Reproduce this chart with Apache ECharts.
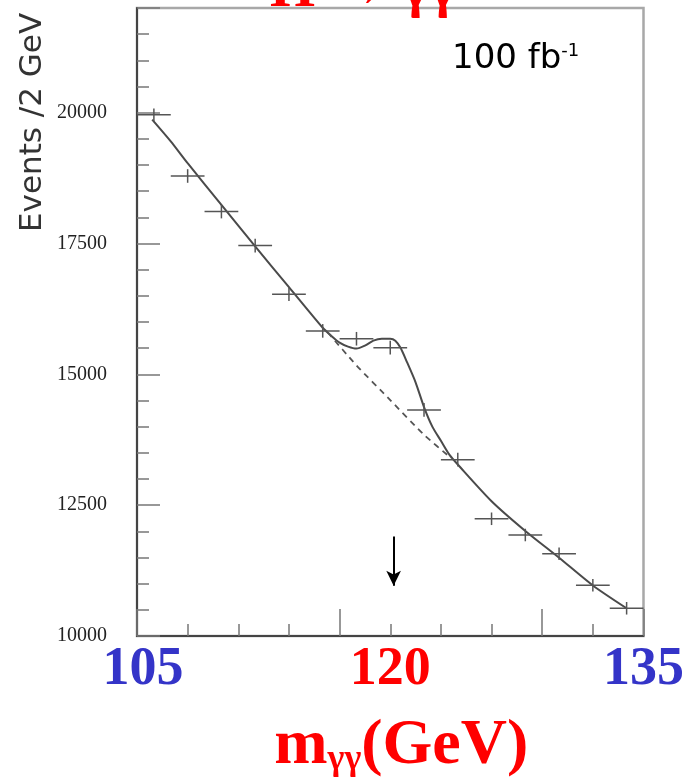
<!DOCTYPE html>
<html><head><meta charset="utf-8">
<script src="https://cdn.jsdelivr.net/npm/echarts@6/dist/echarts.min.js"></script>
<style>html,body{margin:0;padding:0;background:#fff}#c{width:687px;height:783px}</style>
</head><body><div id="c"></div>
<script>
// ---- data ----
const binCenters   = [106,108,110,112,114,116,118,120,122,124,126,128,130,132,134];
const binHalfWidth = [1,1,1,1,1,1,1,1,1,1,1,1,1,1,1];
const eventCounts  = [19960,18790,18110,17460,16530,15830,15680,15510,14320,13370,12240,11930,11570,10970,10530];
const eventErrors  = [120,130,130,130,130,130,130,130,130,130,120,120,120,120,120];

const fitMass   = [105.9,107,108,110,112,114,116,116.5,117,117.5,118,118.5,119,119.5,120,120.3,120.6,121,121.5,122,122.5,123,123.5,124,126,128,130,132,134];
const fitValues = [19867,19451,19034,18239,17443,16667,15890,15739,15606,15530,15492,15549,15644,15682,15682,15644,15511,15227,14848,14375,13996,13731,13466,13277,12576,12008,11496,10966,10530];

const bkgMass   = [116.3,118,120,122,123.6];
const bkgValues = [15800,15170,14508,13845,13400];

const arrowMass = 120.2;
const arrowFrom = 11900;
const arrowTo   = 10960;

const xLabelValues = [105,120,135];
const yLabelValues = [10000,12500,15000,17500,20000];

const titleText = 'H → γγ';
const lumiText = '100 fb';
const lumiSup = '-1';
const yTitle = 'Events /2 GeV';

// ---- chart ----
const chart = echarts.init(document.getElementById('c'));
const crossData = binCenters.map((m,i)=>[m, eventCounts[i], binHalfWidth[i], eventErrors[i]]);
const fitData = fitMass.map((m,i)=>[m, fitValues[i]]);
const bkgData = bkgMass.map((m,i)=>[m, bkgValues[i]]);

const serif = '"Liberation Serif","Times New Roman",serif';
const tickCol = '#777';

chart.setOption({
  backgroundColor:'#fff',
  animation:false,
  grid:{left:137, right:42, top:8, bottom:141, show:true, borderColor:'#a8a8a8', borderWidth:2.5},
  xAxis:[{
    type:'value', min:105, max:135, interval:3, position:'bottom',
    axisLine:{show:true, onZero:false, lineStyle:{color:'#444', width:2}},
    axisTick:{show:true, inside:true, length:12, lineStyle:{color:tickCol, width:1.5}},
    splitLine:{show:false},
    axisLabel:{
      show:true, margin:7, showMinLabel:true, showMaxLabel:true,
      formatter:function(v){
        if (xLabelValues.indexOf(v) < 0) return '';
        if (v === xLabelValues[0]) return '{b0|'+v+'}';
        if (v === xLabelValues[1]) return '{r|'+v+'}';
        return '{b|'+v+'}';
      },
      rich:{
        b0:{color:'#3434c8', fontFamily:serif, fontWeight:'bold', fontSize:54, padding:[0,0,0,12]},
        b:{color:'#3434c8', fontFamily:serif, fontWeight:'bold', fontSize:54},
        r:{color:'#ff0000', fontFamily:serif, fontWeight:'bold', fontSize:54}
      }
    },
    name:'{m|m}{s|γγ}{p|(GeV)}',
    nameLocation:'middle', nameGap:78,
    nameTextStyle:{
      padding:[0,0,0,22],
      rich:{
        m:{color:'#ff0000', fontFamily:serif, fontWeight:'bold', fontSize:64, verticalAlign:'top', lineHeight:64},
        p:{color:'#ff0000', fontFamily:serif, fontWeight:'bold', fontSize:64, verticalAlign:'top', lineHeight:64},
        s:{color:'#ff0000', fontFamily:serif, fontWeight:'bold', fontSize:36, verticalAlign:'bottom', lineHeight:36, padding:[38,0,0,0]}
      }
    }
  },{
    type:'value', min:105, max:135, interval:12, position:'bottom',
    axisLine:{show:false},
    axisTick:{show:true, inside:true, length:27, lineStyle:{color:tickCol, width:1.5}},
    axisLabel:{show:false}, splitLine:{show:false}
  }],
  yAxis:[{
    type:'value', min:10000, max:22000, interval:500, position:'left',
    axisLine:{show:true, onZero:false, lineStyle:{color:'#444', width:2}},
    axisTick:{show:true, inside:true, length:12, lineStyle:{color:tickCol, width:1.5}},
    axisLabel:{show:false}, splitLine:{show:false}
  },{
    type:'value', min:10000, max:22000, interval:2500, position:'left',
    axisLine:{show:false},
    axisTick:{show:true, inside:true, length:23, lineStyle:{color:tickCol, width:1.5}},
    splitLine:{show:false},
    axisLabel:{
      margin:30, color:'#222', fontFamily:serif, fontSize:20,
      formatter:function(v){ return yLabelValues.indexOf(v) >= 0 ? String(v) : ''; }
    }
  }],
  series:[{
    type:'line', name:'fit', xAxisIndex:0, yAxisIndex:0, data:fitData,
    smooth:0.25, showSymbol:false, symbol:'none',
    lineStyle:{color:'#4a4a4a', width:2}, z:3
  },{
    type:'line', name:'background', xAxisIndex:0, yAxisIndex:0, data:bkgData,
    smooth:0.2, showSymbol:false, symbol:'none',
    lineStyle:{color:'#555', width:1.8, type:[6,5]}, z:3,
    markLine:{
      silent:true, symbol:['none','arrow'], symbolSize:[11,15],
      label:{show:false},
      lineStyle:{color:'#000', width:2, type:'solid'},
      data:[[{coord:[arrowMass, arrowFrom]},{coord:[arrowMass, arrowTo]}]]
    }
  },{
    type:'custom', name:'data', xAxisIndex:0, yAxisIndex:0, data:crossData, z:4,
    renderItem:function(params, api){
      const m = api.value(0), v = api.value(1), hw = api.value(2), e = api.value(3);
      const l = api.coord([m-hw, v]), r = api.coord([m+hw, v]);
      const t = api.coord([m, v+e]), b = api.coord([m, v-e]);
      const st = {stroke:'#555', lineWidth:1.5};
      return {type:'group', children:[
        {type:'line', shape:{x1:l[0], y1:l[1], x2:r[0], y2:r[1]}, style:st},
        {type:'line', shape:{x1:t[0], y1:t[1], x2:b[0], y2:b[1]}, style:st}
      ]};
    }
  }],
  graphic:[
    {type:'text', x:270, y:-9, style:{text:titleText, fontFamily:serif, fontWeight:'bold', fontSize:58, fill:'#ff0000', align:'left', verticalAlign:'middle'}},
    {type:'text', x:452, y:42, style:{
      text:'{a|'+lumiText+'}{s|'+lumiSup+'}',
      rich:{a:{fontFamily:'"DejaVu Sans",sans-serif', fontSize:34, fill:'#000', verticalAlign:'top', lineHeight:34},
            s:{fontFamily:'"DejaVu Sans",sans-serif', fontSize:18, fill:'#000', verticalAlign:'top', lineHeight:20}},
      align:'left', verticalAlign:'top'}},
    {type:'text', x:33, y:232, rotation:Math.PI/2, style:{text:yTitle, fontFamily:'"DejaVu Sans",sans-serif', fontSize:31, fill:'#333', align:'left', verticalAlign:'middle'}}
  ]
});
</script>
</body></html>
